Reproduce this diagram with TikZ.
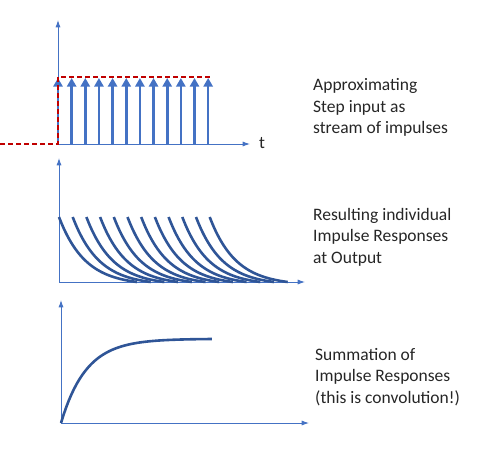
\documentclass[tikz,border=0pt]{standalone}
\usepackage{fontspec}
\setmainfont{Carlito}
\usetikzlibrary{arrows.meta,positioning,calc}
\definecolor{Axis}{HTML}{4472C4}
\definecolor{Pulse}{HTML}{4472C4}
\definecolor{Curve}{HTML}{2F5597}
\definecolor{StepRed}{HTML}{C00000}
\definecolor{Ink}{HTML}{262626}
\tikzset{
  axis/.style={draw=Axis,line width=.9pt,-{Latex[length=2.6mm,width=1.8mm]}},
  pulse/.style={draw=Pulse,line width=2.6pt,-{Triangle[length=3mm,width=3.2mm]}},
  stepline/.style={draw=StepRed,line width=1.5pt,dashed,dash pattern=on 5pt off 3pt},
  resp/.style={draw=Curve,line width=2.6pt},
  caption/.style={anchor=base west,align=left,text=Ink,inner sep=0pt,font=\fontsize{17.5}{21.5}\selectfont}
}
\begin{document}
\begin{tikzpicture}[x=1pt,y=-1pt]
  \useasboundingbox (0,0) rectangle (494,465);
  % step input as impulses
  \coordinate (o1) at (58,144);
  \coordinate (y1) at (58,20);
  \coordinate (x1) at (250,144);
  \draw[axis] (o1) -- (y1);
  \draw[axis] (o1) -- (x1);
  \node[anchor=west,inner sep=0pt,text=Ink,font=\fontsize{17.5}{20}\selectfont] (t) at (259,143) {t};
  \foreach \i in {0,...,11}
    \draw[pulse] ($(o1)+(13.65*\i,0)$) coordinate (p\i) -- ++(0,-66);
  \coordinate (s0) at (0,144);
  \coordinate (s1) at (58,77);
  \coordinate (s2) at (212,77);
  \draw[stepline] (s0) -- (o1) -- (s1) -- (s2);
  % impulse responses
  \coordinate (o2) at (59,282);
  \coordinate (y2) at (59,158);
  \coordinate (x2) at (305,282);
  \draw[axis] (o2) -- (y2);
  \draw[axis] (o2) -- (x2);
  \foreach \i in {0,...,11}
    \draw[resp] plot[domain=0:1,samples=40,smooth]
      ({59+13.7*\i+78*\x},{282-65*(exp(-3*\x)-exp(-3))/(1-exp(-3))});
  % sum of responses
  \coordinate (o3) at (61,423);
  \coordinate (y3) at (61,300);
  \coordinate (x3) at (309,423);
  \draw[axis] (o3) -- (y3);
  \draw[axis] (o3) -- (x3);
  \draw[resp] plot[domain=0:1,samples=60,smooth]
    ({61+151*\x},{423-84*(1-exp(-6*\x))/(1-exp(-6))});
  % captions
  \node[caption] (c1) at (313,134) {Approximating\\Step input as\\stream of impulses};
  \node[caption] (c2) at (313,263) {Resulting individual\\Impulse Responses\\at Output};
  \node[caption] (c3) at (315,403) {Summation of\\Impulse Responses\\(this is convolution!)};
\end{tikzpicture}
\end{document}
